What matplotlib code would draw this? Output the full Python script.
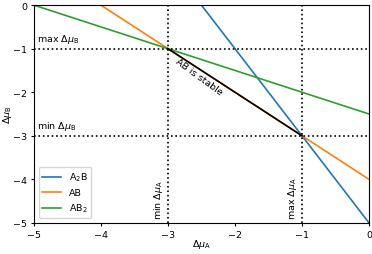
import matplotlib.pyplot as plt

plt.rcParams["font.size"] = 6.8
plt.rcParams["lines.linewidth"] = 1.2
plt.rcParams["xtick.major.size"] = 2.5
plt.rcParams["ytick.major.size"] = 2.5
plt.rcParams["xtick.major.pad"] = 2.5
plt.rcParams["ytick.major.pad"] = 2.5

# chemical potential range and the three formation lines
x_ends = [-5, 0]
a2b_line = [5, -5]        # A2B: 2x + y = -5
ab_line = [1, -4]         # AB: x + y = -4
ab2_line = [0, -2.5]      # AB2: x + 2y = -5
stable_x = [-3, -1]
stable_y = [-1, -3]
bounds_a = [-3, -1]
bounds_b = [-1, -3]

fig, ax = plt.subplots(figsize=(3.72, 2.55), dpi=100)

ax.plot(x_ends, a2b_line, label=r"A$_2$B")
ax.plot(x_ends, ab_line, label="AB")
ax.plot(x_ends, ab2_line, label=r"AB$_2$")
ax.plot(stable_x, stable_y, color="black")

for v in bounds_a:
    ax.axvline(v, color="black", linestyle=":")
for v in bounds_b:
    ax.axhline(v, color="black", linestyle=":")

ax.text(-4.95, bounds_b[0] + 0.08, r"max $\Delta\mu_\mathrm{B}$", va="bottom")
ax.text(-4.95, bounds_b[1] + 0.08, r"min $\Delta\mu_\mathrm{B}$", va="bottom")
ax.text(bounds_a[0] - 0.05, -4.92, r"min $\Delta\mu_\mathrm{A}$", rotation=90,
        ha="right", va="bottom")
ax.text(bounds_a[1] - 0.05, -4.92, r"max $\Delta\mu_\mathrm{A}$", rotation=90,
        ha="right", va="bottom")
ax.text(-2.54, -1.64, "AB is stable", rotation=-36, ha="center", va="center")

ax.set_xlim(-5, 0)
ax.set_ylim(-5, 0)
ax.set_xlabel(r"$\Delta\mu_\mathrm{A}$", labelpad=-1)
ax.set_ylabel(r"$\Delta\mu_\mathrm{B}$", labelpad=-1)
ax.legend(loc="lower left")

fig.subplots_adjust(left=0.091, right=0.992, top=0.976, bottom=0.122)
fig.savefig("out.png")
